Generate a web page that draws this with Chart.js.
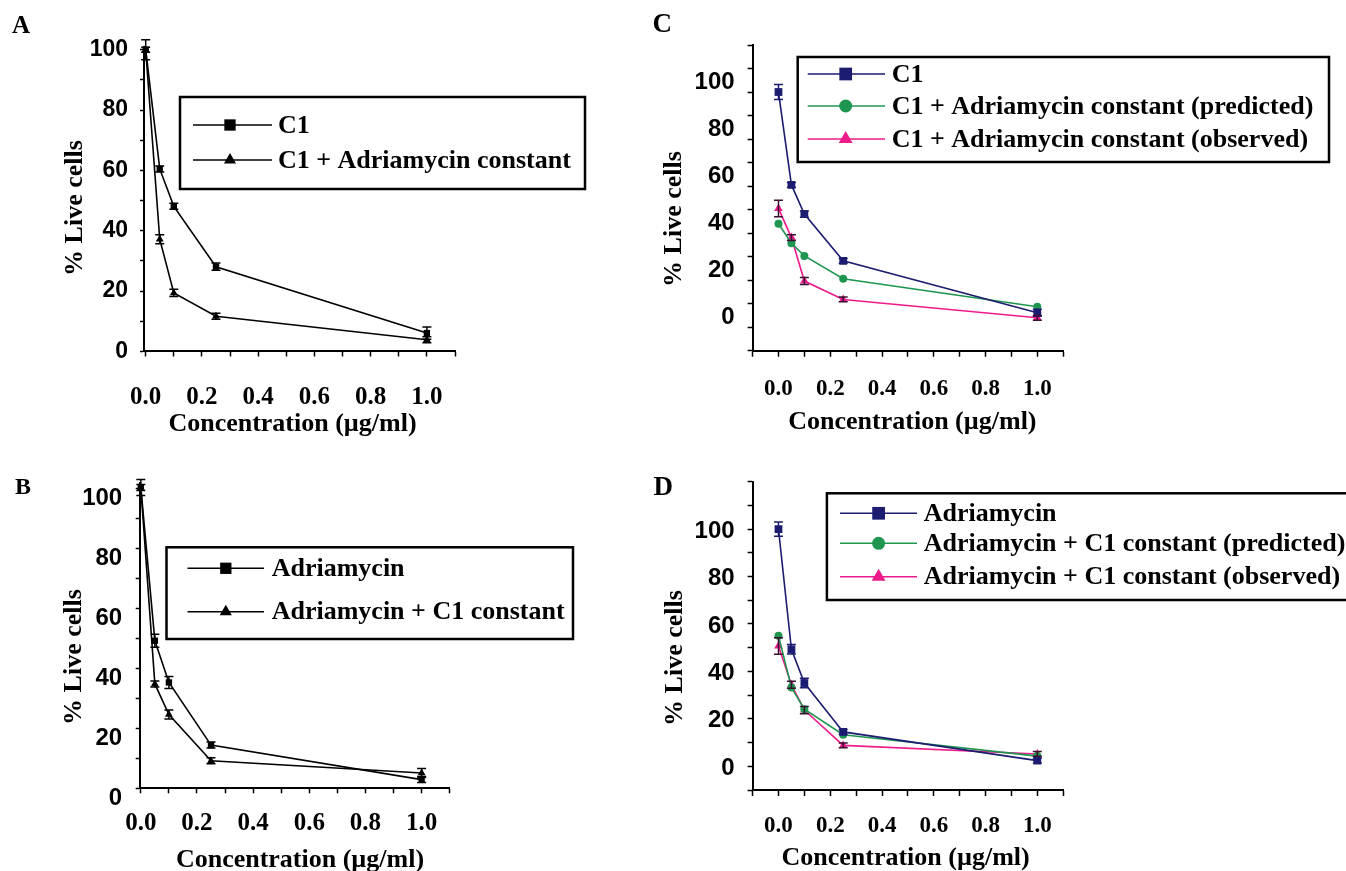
<!DOCTYPE html>
<html lang="en">
<head>
<meta charset="UTF-8">
<title>% Live cells vs concentration</title>
<script src="https://cdn.jsdelivr.net/npm/chart.js"></script>
<style>
  body { margin: 0; background: #fff; }
  #page { position: relative; width: 1346px; height: 871px; overflow: hidden; background: #fff; }
  #page canvas { position: absolute; left: 0; top: 0; }
</style>
</head>
<body>
<div id="page">
  <canvas id="chartA" width="1346" height="871"></canvas>
  <canvas id="chartB" width="1346" height="871"></canvas>
  <canvas id="chartC" width="1346" height="871"></canvas>
  <canvas id="chartD" width="1346" height="871"></canvas>
</div>
<script>
// concentrations (µg/ml) shared by all panels
const conc = [0, 0.05, 0.1, 0.25, 1.0];
const yTickLabels = [0, 20, 40, 60, 80, 100];
const xTickLabels = [0.0, 0.2, 0.4, 0.6, 0.8, 1.0];
const xTitle = 'Concentration (µg/ml)';
const yTitle = '% Live cells';

// Panel A
const aLabels = ['C1', 'C1 + Adriamycin constant'];
const aC1 = [100, 60.5, 48.1, 28.1, 6.1];
const aC1Err = [0.8, 1, 1, 1.2, 2];
const aC1Adr = [100, 37.2, 19.4, 11.7, 3.9];
const aC1AdrErr = [3.3, 1.5, 1.2, 1, 1];

// Panel B
const bLabels = ['Adriamycin', 'Adriamycin + C1 constant'];
const bAdr = [100.3, 49.2, 35.3, 14.4, 2.9];
const bAdrErr = [1, 2.2, 2, 1, 1];
const bAdrC1 = [100.3, 34.8, 24.6, 9.2, 5.1];
const bAdrC1Err = [2.7, 1, 1.5, 1, 1.5];

// Panel C
const cLabels = ['C1', 'C1 + Adriamycin constant (predicted)', 'C1 + Adriamycin constant (observed)'];
const cC1 = [100, 60.5, 48.1, 28.2, 6.1];
const cC1Err = [3.2, 1, 1.3, 1, 1.5];
const cPred = [44, 35.7, 30.3, 20.6, 8.7];
const cObs = [50.5, 38.1, 19.6, 11.8, 4.0];
const cObsErr = [3.5, 1.2, 1.5, 1, 1];

// Panel D
const dLabels = ['Adriamycin', 'Adriamycin + C1 constant (predicted)', 'Adriamycin + C1 constant (observed)'];
const dAdr = [100, 49.3, 35.1, 14.5, 2.4];
const dAdrErr = [3, 2, 2, 1, 1];
const dPred = [55, 33.2, 24.1, 13.3, 4.3];
const dObs = [50.7, 34.4, 23.7, 8.8, 5.2];
const dObsErr = [3.5, 1.5, 1.5, 1, 1];

const NAVY = '#1c1c70';
const GREEN = '#1e9650';
const PINK = '#ee1b8b';
const BLACK = '#000000';

const SERIF = '"Liberation Serif", "Times New Roman", serif';
const SANS = '"Liberation Sans", Arial, sans-serif';

function drawMarker(ctx, style, x, y, r) {
    ctx.beginPath();
    if (style === 'rect') {
        const s = r * Math.SQRT1_2;
        ctx.rect(x - s, y - s, 2 * s, 2 * s);
    } else if (style === 'triangle') {
        ctx.moveTo(x, y - r);
        ctx.lineTo(x + r * 0.866, y + r * 0.5);
        ctx.lineTo(x - r * 0.866, y + r * 0.5);
        ctx.closePath();
    } else {
        ctx.arc(x, y, r, 0, Math.PI * 2);
    }
    ctx.fill();
}

// error bars, panel letter, axis titles and boxed legend
const panelDecor = {
    id: 'panelDecor',
    afterDatasetsDraw(chart, args, opts) {
        const ctx = chart.ctx;
        const xs = chart.scales.x;
        const ys = chart.scales.y;
        ctx.save();
        chart.data.datasets.forEach(ds => {
            if (!ds.errors) return;
            ctx.strokeStyle = ds.errorColor || ds.borderColor;
            ctx.lineWidth = 1.5;
            ds.data.forEach((pt, i) => {
                const e = ds.errors[i];
                if (!e) return;
                const px = xs.getPixelForValue(pt.x);
                const y1 = ys.getPixelForValue(pt.y + e);
                const y2 = ys.getPixelForValue(pt.y - e);
                ctx.beginPath();
                ctx.moveTo(px, y1); ctx.lineTo(px, y2);
                ctx.moveTo(px - 4.5, y1); ctx.lineTo(px + 4.5, y1);
                ctx.moveTo(px - 4.5, y2); ctx.lineTo(px + 4.5, y2);
                ctx.stroke();
            });
        });
        ctx.restore();
    },
    afterDraw(chart, args, opts) {
        if (!opts.letter) return;
        const ctx = chart.ctx;
        ctx.save();
        ctx.fillStyle = '#000';

        // panel letter
        ctx.font = 'bold ' + opts.letter.size + 'px ' + SERIF;
        ctx.textAlign = 'left';
        ctx.textBaseline = 'alphabetic';
        ctx.fillText(opts.letter.text, opts.letter.x, opts.letter.y);

        // axis titles
        ctx.font = 'bold 26px ' + SERIF;
        ctx.textAlign = 'center';
        ctx.textBaseline = 'middle';
        ctx.fillText(xTitle, opts.xTitle[0], opts.xTitle[1]);
        ctx.save();
        ctx.translate(opts.yTitle[0], opts.yTitle[1]);
        ctx.rotate(-Math.PI / 2);
        ctx.fillText(yTitle, 0, 0);
        ctx.restore();

        // legend
        const lg = opts.legend;
        ctx.lineWidth = 2.5;
        ctx.strokeStyle = '#000';
        ctx.strokeRect(lg.box[0], lg.box[1], lg.box[2] - lg.box[0], lg.box[3] - lg.box[1]);
        chart.data.datasets.forEach((ds, i) => {
            const y = lg.rows[i];
            ctx.strokeStyle = ds.borderColor;
            ctx.fillStyle = ds.borderColor;
            ctx.lineWidth = 1.6;
            ctx.beginPath();
            ctx.moveTo(lg.line[0], y);
            ctx.lineTo(lg.line[1], y);
            ctx.stroke();
            drawMarker(ctx, ds.pointStyle, lg.marker, y, lg.radius[ds.pointStyle]);
            ctx.fillStyle = '#000';
            ctx.font = 'bold 26px ' + SERIF;
            ctx.textAlign = 'left';
            ctx.textBaseline = 'middle';
            ctx.fillText(ds.label, lg.text, y + 1);
        });
        ctx.restore();
    }
};
Chart.register(panelDecor);

function xLabel(v) {
    const t = Math.round(v * 10);
    if (Math.abs(v * 10 - t) > 1e-6) return '';
    const hit = xTickLabels.find(l => Math.round(l * 10) === t);
    return hit === undefined ? '' : hit.toFixed(1);
}

function yLabel(v) {
    return yTickLabels.includes(Math.round(v * 1000) / 1000) ? String(Math.round(v)) : '';
}

function makePanel(id, p) {
    const W = 1346, H = 871, yW = 60, xH = 70;
    const area = p.area;
    return new Chart(document.getElementById(id), {
        type: 'line',
        data: {
            datasets: p.series.map(s => ({
                label: s.label,
                data: conc.map((x, i) => ({ x: x, y: s.values[i] })),
                errors: s.errors,
                errorColor: s.errorColor,
                borderColor: s.color,
                backgroundColor: s.color,
                borderWidth: 1.6,
                pointStyle: s.shape,
                pointRadius: s.radius,
                pointBorderWidth: 0,
                tension: 0,
                clip: false
            }))
        },
        options: {
            responsive: false,
            animation: false,
            events: [],
            layout: {
                padding: {
                    left: area[0] - yW,
                    top: area[1],
                    right: W - area[2],
                    bottom: H - area[3] - xH
                }
            },
            plugins: {
                legend: { display: false },
                tooltip: { enabled: false },
                panelDecor: p.decor
            },
            scales: {
                x: {
                    type: 'linear',
                    min: p.xMin,
                    max: 1.1,
                    afterFit: s => { s.height = xH; },
                    border: { display: true, color: '#000', width: 2 },
                    grid: { drawOnChartArea: false, drawTicks: true, tickLength: p.xTick[0], tickWidth: 1.5, tickColor: '#000' },
                    ticks: {
                        stepSize: 0.1,
                        includeBounds: false,
                        autoSkip: false,
                        maxRotation: 0,
                        padding: p.xTick[1],
                        color: '#000',
                        font: { family: SERIF, size: p.xFont, weight: 'bold' },
                        callback: xLabel
                    }
                },
                y: {
                    min: p.yRange[0],
                    max: p.yRange[1],
                    afterFit: s => { s.width = yW; },
                    border: { display: true, color: '#000', width: 2 },
                    grid: { drawOnChartArea: false, drawTicks: true, tickLength: p.yTick[0], tickWidth: 1.5, tickColor: '#000' },
                    ticks: {
                        stepSize: p.yRange[2],
                        includeBounds: false,
                        autoSkip: false,
                        padding: p.yTick[1],
                        labelOffset: p.yTick[2],
                        color: '#000',
                        font: { family: SANS, size: p.yFont, weight: 'bold' },
                        callback: yLabel
                    }
                }
            }
        }
    });
}

makePanel('chartA', {
    area: [144, 46.7, 455, 351.5],
    xMin: -0.006,
    yRange: [0, 101, 10],
    xTick: [5, 26], yTick: [4, 12, 0],
    xFont: 25, yFont: 23,
    series: [
        { label: aLabels[0], values: aC1, errors: aC1Err, color: BLACK, shape: 'rect', radius: 4.5 },
        { label: aLabels[1], values: aC1Adr, errors: aC1AdrErr, color: BLACK, shape: 'triangle', radius: 4.5 }
    ],
    decor: {
        letter: { text: 'A', x: 12, y: 33, size: 25 },
        xTitle: [292.5, 424], yTitle: [75, 208],
        legend: { box: [180, 97, 585, 189], rows: [125, 160], line: [193, 272], marker: 230, text: 278,
                  radius: { rect: 8, triangle: 7, circle: 6 } }
    }
});

makePanel('chartB', {
    area: [139.7, 483, 449.7, 788.3],
    xMin: -0.004,
    yRange: [0, 101.8, 10],
    xTick: [5, 15], yTick: [4, 13.5, 10],
    xFont: 25, yFont: 24,
    series: [
        { label: bLabels[0], values: bAdr, errors: bAdrErr, color: BLACK, shape: 'rect', radius: 4.5 },
        { label: bLabels[1], values: bAdrC1, errors: bAdrC1Err, color: BLACK, shape: 'triangle', radius: 4.5 }
    ],
    decor: {
        letter: { text: 'B', x: 15, y: 494, size: 24 },
        xTitle: [300, 860], yTitle: [74.6, 657],
        legend: { box: [166.5, 547.3, 573, 639], rows: [568.3, 611.7], line: [187.5, 264], marker: 225.8, text: 271.7,
                  radius: { rect: 8, triangle: 7, circle: 6 } }
    }
});

makePanel('chartC', {
    area: [752.6, 45, 1063.2, 350.7],
    xMin: -0.1,
    yRange: [-10, 120, 10],
    xTick: [6, 19], yTick: [5, 13, -10],
    xFont: 23, yFont: 24,
    series: [
        { label: cLabels[0], values: cC1, errors: cC1Err, color: NAVY, shape: 'rect', radius: 5.5 },
        { label: cLabels[1], values: cPred, errors: null, color: GREEN, shape: 'circle', radius: 4 },
        { label: cLabels[2], values: cObs, errors: cObsErr, errorColor: '#3a1030', color: PINK, shape: 'triangle', radius: 5 }
    ],
    decor: {
        letter: { text: 'C', x: 652.6, y: 31.7, size: 27 },
        xTitle: [912.4, 422], yTitle: [674.7, 219],
        legend: { box: [797.7, 57, 1329, 162], rows: [74, 106, 139], line: [807.7, 885], marker: 845.7, text: 891.7,
                  radius: { rect: 9, triangle: 8, circle: 6.5 } }
    }
});

makePanel('chartD', {
    area: [752.6, 481.7, 1063.2, 790],
    xMin: -0.1,
    yRange: [-10, 120, 10],
    xTick: [6, 16], yTick: [5, 13, 2],
    xFont: 23, yFont: 24,
    series: [
        { label: dLabels[0], values: dAdr, errors: dAdrErr, color: NAVY, shape: 'rect', radius: 5.5 },
        { label: dLabels[1], values: dPred, errors: null, color: GREEN, shape: 'circle', radius: 4 },
        { label: dLabels[2], values: dObs, errors: dObsErr, errorColor: '#3a1030', color: PINK, shape: 'triangle', radius: 5 }
    ],
    decor: {
        letter: { text: 'D', x: 653.5, y: 495, size: 27 },
        xTitle: [905.6, 858.3], yTitle: [675, 658],
        legend: { box: [826.9, 493.3, 1372, 600], rows: [513.3, 543.3, 576.7], line: [840, 917], marker: 878.6, text: 923.7,
                  radius: { rect: 9, triangle: 8, circle: 6.5 } }
    }
});
</script>
</body>
</html>
